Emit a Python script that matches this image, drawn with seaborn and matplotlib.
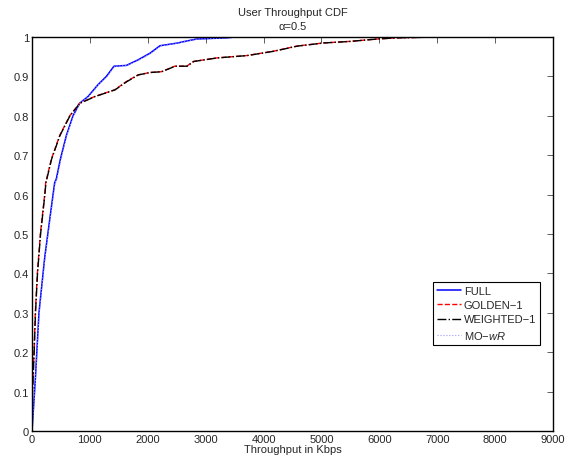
import matplotlib
matplotlib.use("Agg")
import matplotlib.pyplot as plt
import seaborn as sns
import pandas as pd

# CDF curves (throughput in Kbps, CDF value)
full_x = [0, 57, 120, 219, 323, 391, 420, 490, 593, 708, 823, 967, 1140, 1284,
          1416, 1630, 1831, 2038, 2211, 2522, 2608, 2845, 3363, 3500, 8000]
full_y = [0, 0.13, 0.30, 0.44, 0.556, 0.63, 0.64, 0.69, 0.75, 0.80, 0.832, 0.849,
          0.879, 0.90, 0.926, 0.928, 0.942, 0.959, 0.978, 0.985, 0.988, 0.995,
          0.998, 1.0, 1.0]

mowr_x = [0, 60, 125, 225, 330, 400, 430, 500, 600, 715, 830, 980, 1150, 1300,
          1430, 1650, 1850, 2060, 2230, 2540, 2630, 2870, 3380, 3550, 8000]
mowr_y = [0, 0.13, 0.30, 0.44, 0.556, 0.63, 0.64, 0.69, 0.75, 0.80, 0.832, 0.849,
          0.879, 0.90, 0.926, 0.928, 0.942, 0.959, 0.978, 0.985, 0.988, 0.995,
          0.998, 1.0, 1.0]

golden_x = [0, 10, 35, 57, 92, 144, 219, 236, 334, 478, 651, 823, 1082, 1428,
            1630, 1831, 2038, 2234, 2465, 2672, 2787, 3190, 3708, 4168, 4572,
            5032, 5493, 5954, 6300, 7000, 8000]
golden_y = [0.08, 0.11, 0.20, 0.30, 0.40, 0.50, 0.60, 0.63, 0.69, 0.75, 0.80,
            0.832, 0.849, 0.866, 0.887, 0.904, 0.910, 0.912, 0.926, 0.926, 0.938,
            0.947, 0.953, 0.964, 0.977, 0.985, 0.989, 0.995, 0.998, 1.0, 1.0]

weighted_x = [0, 12, 37, 60, 95, 148, 222, 240, 338, 482, 655, 828, 1090, 1435,
              1640, 1840, 2045, 2240, 2475, 2680, 2795, 3200, 3720, 4180, 4585,
              5045, 5505, 5965, 6310, 7010, 8000]
weighted_y = golden_y

sns.set_style("white")
plt.rcParams["font.family"] = ["Liberation Sans", "DejaVu Sans"]
plt.rcParams["mathtext.fontset"] = "custom"
plt.rcParams["mathtext.it"] = "Liberation Sans:italic"
plt.rcParams["mathtext.rm"] = "Liberation Sans"

fig = plt.figure(figsize=(5.79, 4.64), dpi=100)
ax = fig.add_axes([0.0553, 0.069, 0.8998, 0.849])

series = [
    ("FULL", full_x, full_y, dict(color="#0000ff", linestyle="-", linewidth=1.1)),
    ("GOLDEN\u22121", golden_x, golden_y, dict(color="#ff0000", linestyle="--", linewidth=1.0)),
    ("WEIGHTED\u22121", weighted_x, weighted_y, dict(color="black", linestyle="-.", linewidth=1.0)),
    ("MO\u2212$\\mathit{wR}$", mowr_x, mowr_y, dict(color="#9999ff", linestyle=":", linewidth=0.8)),
]
for name, xs, ys, style in series:
    df = pd.DataFrame({"x": xs, "y": ys})
    sns.lineplot(data=df, x="x", y="y", ax=ax, sort=False, estimator=None,
                 label=name, **style)

ax.set_xlim(0, 9000)
ax.set_ylim(0, 1)
ax.set_xticks(range(0, 9001, 1000))
ax.set_yticks([i / 10 for i in range(11)])
ax.set_yticklabels(["0", "0.1", "0.2", "0.3", "0.4", "0.5", "0.6", "0.7", "0.8", "0.9", "1"])
ax.tick_params(direction="in", length=4, width=0.6, labelsize=8, top=True, right=True,
               pad=2, color="#444444")
for s in ax.spines.values():
    s.set_linewidth(1.0)
    s.set_color("black")

ax.set_xlabel("Throughput in Kbps", fontsize=8, labelpad=0)
ax.set_ylabel("")
ax.set_title("User Throughput CDF\n\u03b1=0.5", fontsize=8, pad=6, linespacing=1.5)

leg = ax.legend(loc="upper right", bbox_to_anchor=(0.975, 0.378), fontsize=8,
                frameon=True, fancybox=False, framealpha=1, edgecolor="black",
                handlelength=2.2, handletextpad=0.2, borderpad=0.35,
                labelspacing=0.38, borderaxespad=0)
leg.get_frame().set_linewidth(0.8)

fig.savefig("out.png", dpi=100)
